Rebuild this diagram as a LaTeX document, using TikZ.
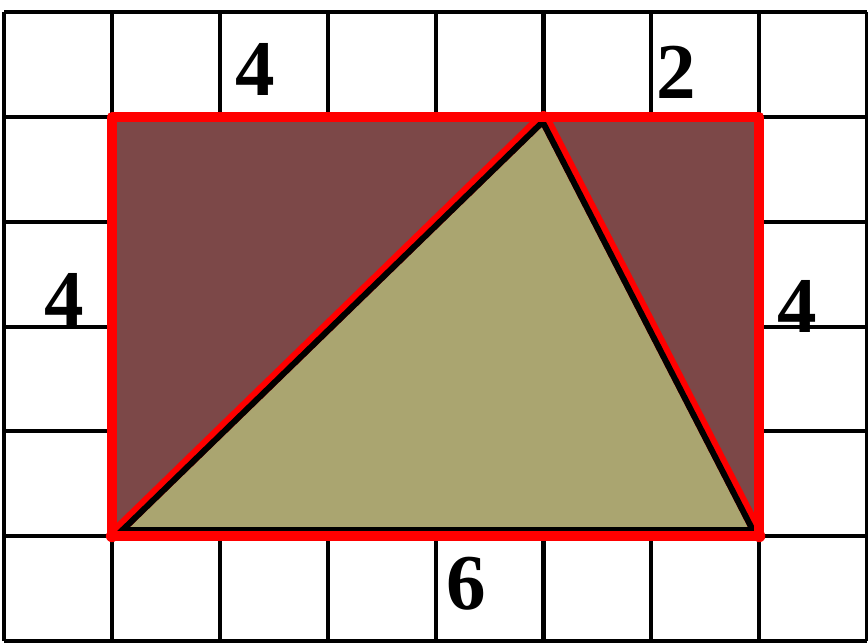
\documentclass[tikz,border=0pt]{standalone}
\usepackage{fontspec}
\setmainfont{Liberation Serif}
\usepackage{tikz}
\usetikzlibrary{positioning, calc}

\definecolor{brownfill}{RGB}{124,72,72}
\definecolor{tanfill}{RGB}{170,165,112}

\tikzset{
	gridline/.style={line width=2.3pt, black},
	redline/.style={line width=5.8pt, red, line join=round, line cap=round},
	blackline/.style={line width=6.8pt, black, line join=round},
	lbl/.style={inner sep=0pt, font=\fontsize{45}{50}\selectfont\bfseries}
}

\begin{document}
\begin{tikzpicture} [x=2.158cm, y=2.096cm]
	\useasboundingbox (-0.08cm,-0.02cm) rectangle ++(17.36cm,12.84cm);
	\draw [gridline, xstep=2.158cm, ystep=2.096cm] (0,0) grid (8,6);
	\coordinate (a) at (1,1);
	\coordinate (b) at (7,1);
	\coordinate (c) at (7,5);
	\coordinate (d) at (1,5);
	\coordinate (p) at (5,5);
	\fill [brownfill] (a) -- (d) -- (p) -- cycle;
	\fill [brownfill] (p) -- (c) -- (b) -- cycle;
	\fill [tanfill] (a) -- (b) -- (p) -- cycle;
	\draw [redline, line width=6.8pt] (a) -- (p) -- (b);
	\begin{scope}
		\clip (a) -- (b) -- (p) -- cycle;
		\draw [blackline] (a) -- (b) -- (p) -- cycle;
		\draw [blackline, line width=10.2pt] (a) -- (b);
	\end{scope}
	\draw [redline] (a) rectangle (c);
	\node [lbl] (top) at (2.33,5.45) {4};
	\node [lbl] (two) at (6.23,5.43) {2};
	\node [lbl] (left) at (0.56,3.26) {4};
	\node [lbl] (right) at (7.35,3.19) {4};
	\node [lbl] (bottom) at (4.28,0.55) {6};
\end{tikzpicture}
\end{document}
